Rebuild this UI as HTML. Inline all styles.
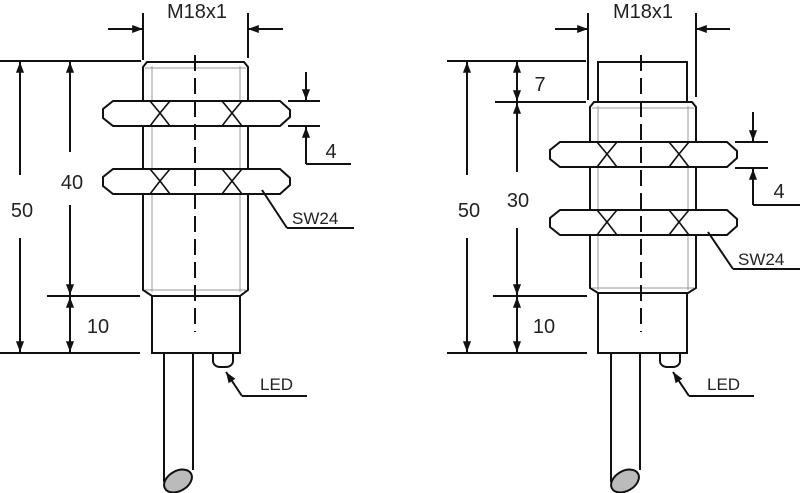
<!DOCTYPE html>
<html><head><meta charset="utf-8"><style>
html,body{margin:0;padding:0;background:#fff;}
svg{display:block;}
text{font-family:"Liberation Sans",sans-serif;fill:#222;}
</style></head><body>
<svg width="800" height="493" viewBox="0 0 800 493" xmlns="http://www.w3.org/2000/svg">
<defs>
<marker id="a" viewBox="0 0 12 10" refX="12" refY="5" markerWidth="13" markerHeight="9" orient="auto-start-reverse" markerUnits="userSpaceOnUse">
<path d="M0,0.5 L12,5 L0,9.5 z" fill="#111"/></marker>
<g id="nut">
<polygon points="113,0 280,0 290,9 290,16 280,25 113,25 103,17 103,8" fill="#fff" stroke="#111" stroke-width="2"/>
<polyline points="150,0 160,12 150,25" fill="none" stroke="#111" stroke-width="1.6"/>
<polyline points="170,0 160,12 170,25" fill="none" stroke="#111" stroke-width="1.6"/>
<polyline points="222,0 232,12 222,25" fill="none" stroke="#111" stroke-width="1.6"/>
<polyline points="242,0 232,12 242,25" fill="none" stroke="#111" stroke-width="1.6"/>
<line x1="160" y1="12" x2="232" y2="12" stroke="none"/>
</g>
</defs>
<g stroke="#111" stroke-width="2" fill="none">
<!-- LEFT SENSOR -->
<polygon points="147,62 244,62 248,67 248,290 240,296 152,296 143,290 143,67" fill="#fff"/>
<line x1="152" y1="66" x2="152" y2="292" stroke="#999" stroke-width="1"/>
<line x1="240" y1="66" x2="240" y2="292" stroke="#999" stroke-width="1"/>
<line x1="145" y1="68" x2="246" y2="68" stroke="#999" stroke-width="1"/>
<line x1="145" y1="290" x2="246" y2="290" stroke="#999" stroke-width="1"/>
<rect x="152" y="296" width="88" height="57" fill="#fff"/>
<line x1="164" y1="353" x2="164" y2="482"/>
<line x1="193" y1="353" x2="193" y2="470"/>
<ellipse cx="178" cy="481" rx="15" ry="10" transform="rotate(-30 178 481)" fill="#bbb"/>
<path d="M213,354 V361 a7,6 0 0 0 7,6 h6 a7,6 0 0 0 7,-6 V354"/>
<line x1="242" y1="396" x2="307" y2="396"/>
<line x1="242" y1="396" x2="226" y2="372" marker-end="url(#a)"/>
<use href="#nut" y="101"/>
<use href="#nut" y="169"/>
<line x1="195" y1="55" x2="195" y2="332" stroke-dasharray="16,7"/>
<!-- dims left -->
<line x1="143" y1="13" x2="143" y2="60"/>
<line x1="248" y1="13" x2="248" y2="58"/>
<line x1="108" y1="29" x2="143" y2="29" marker-end="url(#a)"/>
<line x1="283" y1="29" x2="248" y2="29" marker-end="url(#a)"/>
<line x1="0" y1="61" x2="141" y2="61"/>
<line x1="47" y1="296" x2="140" y2="296"/>
<line x1="0" y1="353" x2="140" y2="353"/>
<line x1="20" y1="175" x2="20" y2="62" marker-end="url(#a)"/>
<line x1="20" y1="238" x2="20" y2="352" marker-end="url(#a)"/>
<line x1="70" y1="152" x2="70" y2="62" marker-end="url(#a)"/>
<line x1="70" y1="205" x2="70" y2="295" marker-end="url(#a)"/>
<line x1="70" y1="325" x2="70" y2="297" marker-end="url(#a)"/>
<line x1="70" y1="325" x2="70" y2="352" marker-end="url(#a)"/>
<line x1="288" y1="101" x2="320" y2="101"/>
<line x1="288" y1="126" x2="320" y2="126"/>
<line x1="306" y1="72" x2="306" y2="100" marker-end="url(#a)"/>
<line x1="306" y1="164" x2="306" y2="127" marker-end="url(#a)"/>
<line x1="306" y1="164" x2="351" y2="164"/>
<line x1="262" y1="190" x2="287" y2="228"/>
<line x1="287" y1="228" x2="354" y2="228"/>

<!-- RIGHT SENSOR -->
<rect x="598" y="62" width="89" height="40" fill="#fff"/>
<polygon points="594,102 692,102 696,107 696,288 688,293 598,293 590,288 590,107" fill="#fff"/>
<line x1="598" y1="106" x2="598" y2="290" stroke="#999" stroke-width="1"/>
<line x1="688" y1="106" x2="688" y2="290" stroke="#999" stroke-width="1"/>
<line x1="592" y1="108" x2="694" y2="108" stroke="#999" stroke-width="1"/>
<line x1="592" y1="288" x2="694" y2="288" stroke="#999" stroke-width="1"/>
<rect x="598" y="293" width="89" height="60" fill="#fff"/>
<line x1="611" y1="353" x2="611" y2="482"/>
<line x1="640" y1="353" x2="640" y2="470"/>
<ellipse cx="625" cy="481" rx="15" ry="10" transform="rotate(-30 625 481)" fill="#bbb"/>
<path d="M660,354 V361 a7,6 0 0 0 7,6 h6 a7,6 0 0 0 7,-6 V354"/>
<line x1="689" y1="396" x2="754" y2="396"/>
<line x1="689" y1="396" x2="673" y2="372" marker-end="url(#a)"/>
<use href="#nut" x="447" y="142"/>
<use href="#nut" x="447" y="210"/>
<line x1="641" y1="55" x2="641" y2="332" stroke-dasharray="16,7"/>
<!-- dims right -->
<line x1="588" y1="13" x2="588" y2="100"/>
<line x1="696" y1="13" x2="696" y2="97"/>
<line x1="555" y1="29" x2="588" y2="29" marker-end="url(#a)"/>
<line x1="730" y1="29" x2="696" y2="29" marker-end="url(#a)"/>
<line x1="447" y1="61" x2="586" y2="61"/>
<line x1="495" y1="102" x2="586" y2="102"/>
<line x1="493" y1="296" x2="587" y2="296"/>
<line x1="447" y1="353" x2="587" y2="353"/>
<line x1="467" y1="175" x2="467" y2="62" marker-end="url(#a)"/>
<line x1="467" y1="238" x2="467" y2="352" marker-end="url(#a)"/>
<line x1="517" y1="82" x2="517" y2="62" marker-end="url(#a)"/>
<line x1="517" y1="82" x2="517" y2="101" marker-end="url(#a)"/>
<line x1="517" y1="172" x2="517" y2="103" marker-end="url(#a)"/>
<line x1="517" y1="228" x2="517" y2="295" marker-end="url(#a)"/>
<line x1="517" y1="325" x2="517" y2="297" marker-end="url(#a)"/>
<line x1="517" y1="325" x2="517" y2="352" marker-end="url(#a)"/>
<line x1="735" y1="142" x2="768" y2="142"/>
<line x1="735" y1="168" x2="768" y2="168"/>
<line x1="753" y1="112" x2="753" y2="141" marker-end="url(#a)"/>
<line x1="753" y1="205" x2="753" y2="169" marker-end="url(#a)"/>
<line x1="753" y1="205" x2="800" y2="205"/>
<line x1="708" y1="232" x2="733" y2="269"/>
<line x1="733" y1="269" x2="800" y2="269"/>
</g>
<g font-size="20">
<text x="197" y="18" text-anchor="middle">M18x1</text>
<text x="643" y="18" text-anchor="middle">M18x1</text>
<text x="22" y="217" text-anchor="middle">50</text>
<text x="72" y="189" text-anchor="middle">40</text>
<text x="98" y="333" text-anchor="middle">10</text>
<text x="331" y="158" text-anchor="middle">4</text>
<text x="469" y="217" text-anchor="middle">50</text>
<text x="518" y="207" text-anchor="middle">30</text>
<text x="540" y="91" text-anchor="middle">7</text>
<text x="544" y="333" text-anchor="middle">10</text>
<text x="779" y="198" text-anchor="middle">4</text>
</g>
<g font-size="17">
<text x="292" y="224">SW24</text>
<text x="738" y="265">SW24</text>
<text x="260" y="390">LED</text>
<text x="707" y="390">LED</text>
</g>
</svg>
</body></html>
